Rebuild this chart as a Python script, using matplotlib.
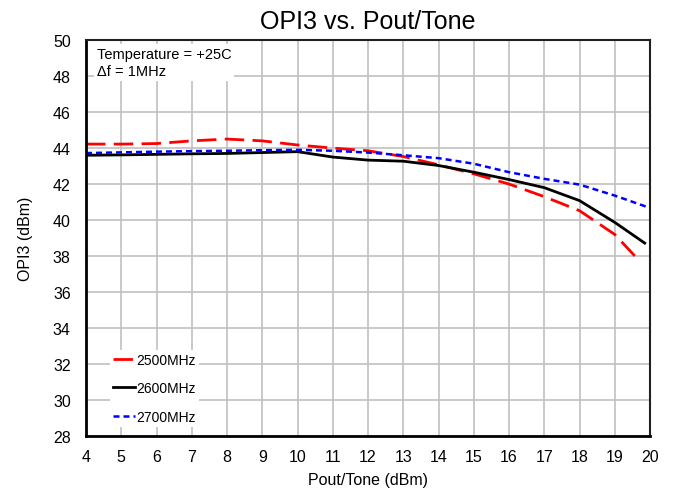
import matplotlib
matplotlib.use("Agg")
import matplotlib.pyplot as plt
import numpy as np

plt.rcParams["font.family"] = ["Liberation Sans", "DejaVu Sans"]

# Values
pout = [4, 5, 6, 7, 8, 9, 10, 11, 12, 13, 14, 15, 16, 17, 18, 19]
opi3_2500 = [44.22, 44.22, 44.25, 44.4, 44.5, 44.4, 44.17, 44.0, 43.85,
             43.53, 43.07, 42.57, 42.0, 41.3, 40.52, 39.2]
opi3_2600 = [43.6, 43.62, 43.65, 43.68, 43.7, 43.75, 43.8, 43.5, 43.33,
             43.27, 43.03, 42.66, 42.25, 41.8, 41.08, 39.87]
opi3_2700 = [43.72, 43.76, 43.8, 43.83, 43.85, 43.88, 43.9, 43.85, 43.75,
             43.6, 43.44, 43.13, 42.66, 42.29, 41.97, 41.36]
end_2500 = (19.7, 37.73)
end_2600 = (19.85, 38.72)
end_2700 = (20.0, 40.67)

fig = plt.figure(figsize=(6.74, 4.89), dpi=100)
ax = fig.add_axes([0.1276, 0.1063, 0.8368, 0.8097])

x25 = pout + [end_2500[0]]
y25 = opi3_2500 + [end_2500[1]]
x26 = pout + [end_2600[0]]
y26 = opi3_2600 + [end_2600[1]]
x27 = pout + [end_2700[0]]
y27 = opi3_2700 + [end_2700[1]]

ax.plot(x25, y25, color="#ff0000", lw=2.0, dashes=(7, 3), label="2500MHz")
ax.plot(x26, y26, color="black", lw=2.0, label="2600MHz")
ax.plot(x27, y27, color="#0000ff", lw=1.8, dashes=(2.4, 1.6), label="2700MHz")

ax.set_xlim(4, 20)
ax.set_ylim(28, 50)
ax.set_xticks(np.arange(4, 21, 1))
ax.set_yticks(np.arange(28, 51, 2))
ax.grid(True, color="#c0c0c0", lw=1.2)
ax.set_axisbelow(True)
ax.tick_params(length=0, labelsize=11.5)
ax.tick_params(axis="y", pad=11)
ax.tick_params(axis="x", pad=9)
for s in ax.spines.values():
    s.set_color("#202020")
    s.set_linewidth(1.5)
ax.spines["left"].set_color("black")
ax.spines["bottom"].set_color("black")
ax.spines["left"].set_linewidth(2)
ax.spines["bottom"].set_linewidth(2)

ax.set_title("OPI3 vs. Pout/Tone", fontsize=18, pad=9)
ax.set_xlabel("Pout/Tone (dBm)", fontsize=11.5, labelpad=6)
ax.set_ylabel("OPI3 (dBm)", fontsize=11.5, labelpad=14)

ax.text(0.019, 0.982, "Temperature = +25C\n\u0394f = 1MHz", transform=ax.transAxes,
        ha="left", va="top", fontsize=10.5, linespacing=1.25,
        bbox=dict(facecolor="white", edgecolor="none", pad=2))

leg = ax.legend(loc="lower left", bbox_to_anchor=(0.03, 0.006), frameon=True,
                fontsize=10, handlelength=1.6, handletextpad=0.1, labelspacing=1.05,
                borderpad=0.2)
leg.get_frame().set_edgecolor("none")
leg.get_frame().set_facecolor("white")
leg.get_frame().set_alpha(1.0)

fig.savefig("out.png", dpi=100)
